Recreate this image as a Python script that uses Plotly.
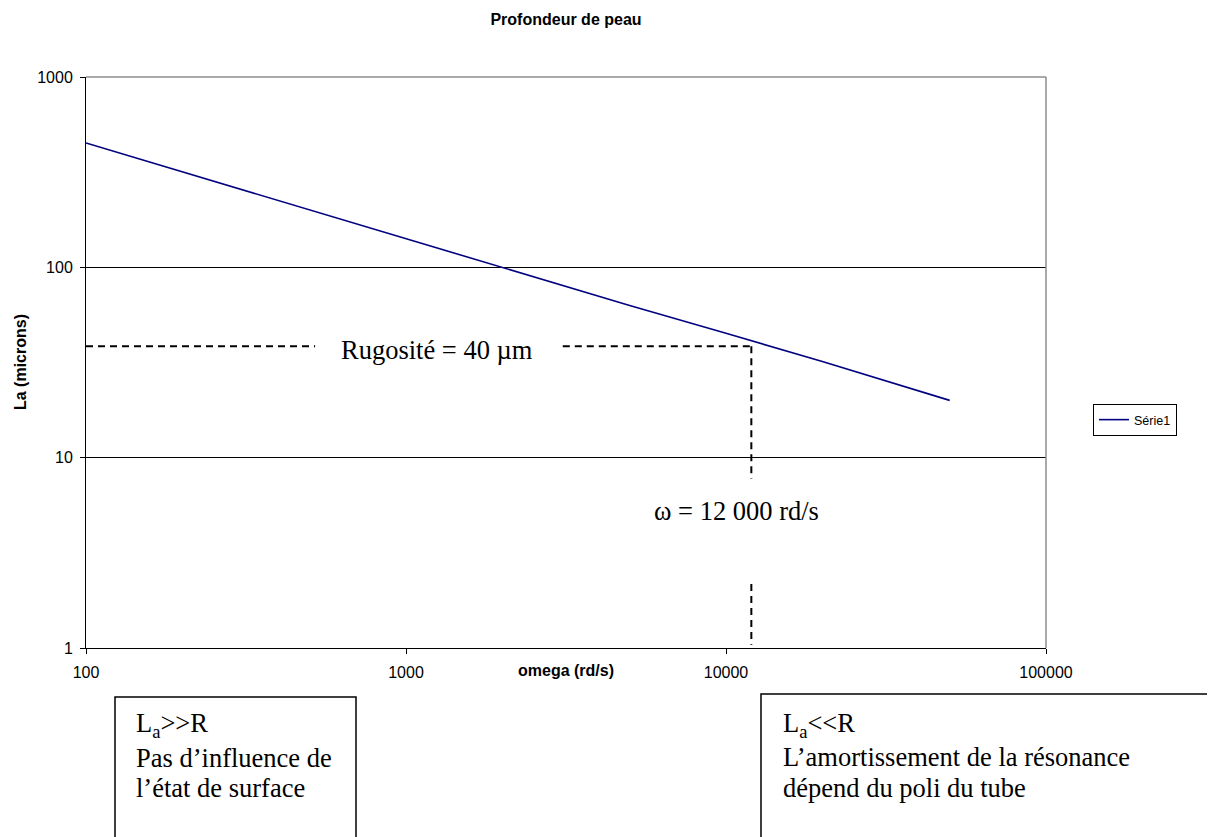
import math
import plotly.graph_objects as go

# ---- data ----
omega = [100, 200, 500, 1000, 2000, 5000, 10000, 20000, 50000]
la_microns = [450, 318, 201, 142, 100, 63, 45, 32, 20]
x_tick_vals = [100, 1000, 10000, 100000]
y_tick_vals = [1, 10, 100, 1000]
rugosite = 38.5        # level of the dashed "Rugosité" line (µm)
omega_c = 12000        # abscissa of vertical dashed line (rd/s)

OFF = 8  # page body margin
W, H = 1215 - OFF, 837 - OFF
L, R, T, B = 86 - OFF, 1046 - OFF, 77 - OFF, 648 - OFF


def px_x(p):
    return (p - OFF - L) / (R - L)


def px_y(p):
    return (B - (p - OFF)) / (B - T)


def lg(v):
    return math.log10(v)


fig = go.Figure()
fig.add_trace(go.Scatter(x=omega, y=la_microns, mode="lines", name="Série1",
                         line=dict(color="#000080", width=1.6)))

dash = "7px,5px"
shapes = []
# horizontal dashed (rugosité) - shapes on log axes take data values
for xa, xb in [(100, 520), (3090, omega_c)]:
    shapes.append(dict(type="line", xref="x", yref="y", x0=xa, x1=xb,
                       y0=rugosite, y1=rugosite,
                       line=dict(color="black", width=2, dash=dash)))
# vertical dashed (omega)
for ya, yb in [(rugosite, 7.74), (2.17, 1.04)]:
    shapes.append(dict(type="line", xref="x", yref="y", x0=omega_c, x1=omega_c,
                       y0=ya, y1=yb,
                       line=dict(color="black", width=2, dash=dash)))
# gray plot border top/right
shapes.append(dict(type="line", xref="paper", yref="paper", x0=0, x1=1, y0=1, y1=1,
                   line=dict(color="#8c8c8c", width=1.5), layer="above"))
shapes.append(dict(type="line", xref="paper", yref="paper", x0=1, x1=1, y0=0, y1=1,
                   line=dict(color="#8c8c8c", width=1.5), layer="above"))
# bottom text boxes
shapes.append(dict(type="rect", xref="paper", yref="paper",
                   x0=px_x(115), x1=px_x(356), y0=px_y(697), y1=px_y(850),
                   line=dict(color="black", width=1.5)))
shapes.append(dict(type="rect", xref="paper", yref="paper",
                   x0=px_x(761), x1=px_x(1225), y0=px_y(694), y1=px_y(850),
                   line=dict(color="black", width=1.5)))

serif = dict(family="Liberation Serif, Times New Roman, serif", size=26.5, color="black")
sans = "Liberation Sans, Arial, sans-serif"
sans_b = dict(family=sans, size=16, color="black", weight=700)


def esc(s):
    return (s.replace("<", "&lt;").replace(">", "&gt;")
             .replace("&lt;sub&gt;", "<sub>").replace("&lt;/sub&gt;", "</sub>"))


annotations = [
    dict(xref="x", yref="y", x=lg(617), y=lg(rugosite), yshift=-4, text="Rugosité = 40 µm",
         showarrow=False, xanchor="left", yanchor="middle", font=serif),
    dict(xref="x", yref="y", x=lg(5870), y=lg(5.26), text="ω = 12 000 rd/s",
         showarrow=False, xanchor="left", yanchor="middle", font=serif),
    # axis titles
    dict(xref="paper", yref="paper", x=0.5, y=px_y(670), text="omega (rd/s)",
         showarrow=False, xanchor="center", yanchor="middle", font=sans_b),
    dict(xref="paper", yref="paper", x=px_x(20), y=px_y(362), text="La (microns)",
         textangle=-90, showarrow=False, xanchor="center", yanchor="middle", font=sans_b),
]
left_lines = ["L<sub>a</sub>>>R", "Pas d’influence de", "l’état de surface"]
right_lines = ["L<sub>a</sub><<R", "L’amortissement de la résonance", "dépend du poli du tube"]
for i, (ya, yb) in enumerate([(725, 725), (758, 757), (788, 788)]):
    annotations.append(dict(xref="paper", yref="paper", x=px_x(134), y=px_y(ya),
                            text=esc(left_lines[i]),
                            showarrow=False, xanchor="left", yanchor="middle", font=serif))
    annotations.append(dict(xref="paper", yref="paper", x=px_x(781), y=px_y(yb),
                            text=esc(right_lines[i]),
                            showarrow=False, xanchor="left", yanchor="middle", font=serif))

fig.update_layout(
    width=W, height=H,
    margin=dict(l=L, r=W - R, t=T, b=H - B, autoexpand=False),
    paper_bgcolor="white", plot_bgcolor="white",
    title=dict(text="Profondeur de peau", x=0.5, xref="paper", xanchor="center",
               y=1 - (19 - OFF) / H, yref="container", yanchor="middle",
               font=dict(family=sans, size=16, color="black", weight=700)),
    shapes=shapes,
    annotations=annotations,
    showlegend=True,
    legend=dict(x=px_x(1093), y=px_y(420), xanchor="left", yanchor="middle",
                bordercolor="black", borderwidth=1, bgcolor="white",
                font=dict(family=sans, size=12.5, color="black"),
                itemwidth=30, tracegroupgap=0),
)
fig.update_xaxes(type="log", range=[2, 5], tickvals=x_tick_vals,
                 ticktext=[str(v) for v in x_tick_vals],
                 showgrid=False, zeroline=False, showline=True, linecolor="black", linewidth=1,
                 ticks="outside", ticklen=5, tickcolor="black",
                 tickfont=dict(family=sans, size=16, color="black"),
                 ticklabelstandoff=5)
fig.update_yaxes(type="log", range=[0, 3], tickvals=y_tick_vals,
                 ticktext=[str(v) for v in y_tick_vals],
                 showgrid=True, gridcolor="black", gridwidth=1, zeroline=False,
                 showline=True, linecolor="black", linewidth=1,
                 ticks="outside", ticklen=5, tickcolor="black",
                 tickfont=dict(family=sans, size=16, color="black"),
                 ticklabelstandoff=4)

fig.write_html("out.html")
